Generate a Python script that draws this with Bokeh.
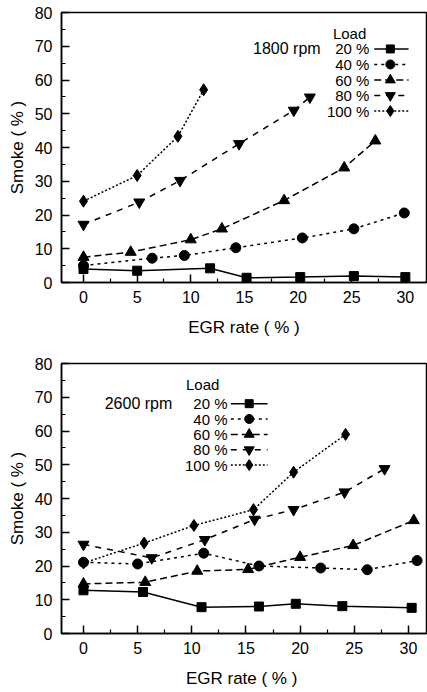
from bokeh.plotting import figure
from bokeh.models import Range1d, FixedTicker
from bokeh.layouts import column
from bokeh.core.properties import value
from bokeh.embed import file_html
from bokeh.resources import INLINE

FONT = "Liberation Sans"

# ---------------- data ----------------
loads = ["20 %", "40 %", "60 %", "80 %", "100 %"]
markers = ["square", "circle", "triangle", "inverted_triangle", "diamond"]

# 1800 rpm
x20_1800 = [0, 5, 11.8, 15.2, 20.2, 25.2, 30]
y20_1800 = [4, 3.5, 4.2, 1.4, 1.6, 1.9, 1.6]
x40_1800 = [0, 6.4, 9.4, 14.2, 20.4, 25.2, 29.9]
y40_1800 = [5, 7.2, 8.0, 10.3, 13.2, 15.9, 20.6]
x60_1800 = [0, 4.4, 10.0, 12.9, 18.7, 24.3, 27.2]
y60_1800 = [7.5, 9.0, 12.7, 15.9, 24.3, 34.0, 42.0]
x80_1800 = [0, 5.2, 9.0, 14.5, 19.6, 21.1]
y80_1800 = [17.2, 23.8, 30.2, 41.1, 51.0, 54.9]
x100_1800 = [0, 5.0, 8.8, 11.2]
y100_1800 = [24.1, 31.7, 43.3, 57.1]

# 2600 rpm
x20_2600 = [0, 5.5, 10.9, 16.2, 19.6, 23.9, 30.3]
y20_2600 = [12.8, 12.3, 7.8, 8.0, 8.8, 8.1, 7.6]
x40_2600 = [0, 5.0, 11.1, 16.2, 21.9, 26.2, 30.8]
y40_2600 = [21.1, 20.6, 23.8, 20.0, 19.4, 18.9, 21.6]
x60_2600 = [0, 5.7, 10.5, 15.2, 20.0, 24.9, 30.5]
y60_2600 = [14.7, 15.2, 18.5, 19.0, 22.6, 26.1, 33.5]
x80_2600 = [0, 6.3, 11.2, 15.8, 19.4, 24.1, 27.8]
y80_2600 = [26.4, 22.4, 27.8, 33.8, 36.7, 41.9, 48.8]
x100_2600 = [0, 5.6, 10.2, 15.7, 19.4, 24.2]
y100_2600 = [20.9, 26.8, 32.0, 36.7, 47.8, 59.0]

x_ticks = [0, 5, 10, 15, 20, 25, 30]
x_minor = [2.5, 7.5, 12.5, 17.5, 22.5, 27.5]
y_ticks = [0, 10, 20, 30, 40, 50, 60, 70, 80]
y_minor = [5, 15, 25, 35, 45, 55, 65, 75]

# ---------------- style ----------------
sizes = [9, 10, 11, 11, 12]
dashes = ["solid", "3 4", "7 4", "6 6", "2 2"]


def panel(series, rpm_text, xr, height, btop, bbot, xlabel, leg):
    p = figure(width=427, height=height, x_range=Range1d(*xr), y_range=Range1d(0, 80),
               output_backend="svg", toolbar_location=None,
               min_border_left=61, min_border_right=1,
               min_border_top=btop, min_border_bottom=bbot)
    p.xgrid.visible = False
    p.ygrid.visible = False
    p.outline_line_color = "black"
    p.outline_line_width = 1.5
    p.background_fill_color = "white"
    p.border_fill_color = "white"
    p.xaxis.ticker = FixedTicker(ticks=x_ticks, minor_ticks=x_minor)
    p.yaxis.ticker = FixedTicker(ticks=y_ticks, minor_ticks=y_minor)
    p.xaxis.axis_label = xlabel
    p.yaxis.axis_label = "Smoke ( % )"
    for ax in (p.xaxis[0], p.yaxis[0]):
        ax.major_tick_in = 8
        ax.major_tick_out = 0
        ax.minor_tick_in = 4
        ax.minor_tick_out = 0
        ax.axis_line_width = 1.5
        ax.major_tick_line_width = 1.5
        ax.minor_tick_line_width = 1.2
        ax.axis_line_color = "black"
        ax.major_tick_line_color = "black"
        ax.minor_tick_line_color = "black"
        ax.major_label_text_font = FONT
        ax.major_label_text_font_size = "16px"
        ax.major_label_text_color = "black"
        ax.axis_label_text_font = FONT
        ax.axis_label_text_font_size = "17px"
        ax.axis_label_text_font_style = "normal"
        ax.axis_label_text_color = "black"
    p.xaxis.major_label_standoff = 8
    p.xaxis.axis_label_standoff = 12
    p.yaxis.major_label_standoff = 9
    p.yaxis.axis_label_standoff = 5

    for i, (xs, ys) in enumerate(series):
        p.line(xs, ys, line_color="black", line_width=1.5, line_dash=dashes[i])
        p.scatter(xs, ys, marker=markers[i], size=sizes[i],
                  fill_color="black", line_color="black")

    # legend (hand-made to mimic original layout)
    lx = leg["label_x"]
    y0 = leg["y0"]
    step = leg["step"]
    ys_leg = [y0 - k * step for k in range(len(loads))]
    p.text(x=[leg["load_x"]], y=[leg["load_y"]], text=["Load"], text_align="center",
           text_baseline="middle", text_font=value(FONT), text_font_size="15px",
           text_color="black")
    p.text(x=[leg["rpm_x"]], y=[y0], text=[rpm_text], text_align="right",
           text_baseline="middle", text_font=value(FONT), text_font_size="16px",
           text_color="black")
    p.text(x=[lx] * len(loads), y=ys_leg, text=loads, text_align="right",
           text_baseline="middle", text_font=value(FONT), text_font_size="15px",
           text_color="black")
    for i, yy in enumerate(ys_leg):
        p.line([leg["l0"], leg["l1"]], [yy, yy], line_color="black", line_width=1.5,
               line_dash=dashes[i])
        p.scatter([leg["m"]], [yy], marker=markers[i], size=sizes[i] - 1,
                  fill_color="black", line_color="black")
    return p


s1800 = [(x20_1800, y20_1800), (x40_1800, y40_1800), (x60_1800, y60_1800),
         (x80_1800, y80_1800), (x100_1800, y100_1800)]
s2600 = [(x20_2600, y20_2600), (x40_2600, y40_2600), (x60_2600, y60_2600),
         (x80_2600, y80_2600), (x100_2600, y100_2600)]

leg1 = dict(label_x=26.65, y0=69.2, step=4.6, l0=27.1, l1=30.3, m=28.6,
            load_x=24.8, load_y=73.9, rpm_x=22.1)
leg2 = dict(label_x=13.3, y0=68.1, step=4.55, l0=13.6, l1=17.0, m=15.3,
            load_x=11.0, load_y=73.8, rpm_x=8.2)

p1 = panel(s1800, "1800 rpm", (-2.05, 31.97), 348, 12, 66, "EGR rate ( % )", leg1)
p2 = panel(s2600, "2600 rpm", (-2.03, 31.67), 344, 15, 59, "EGR  rate ( % )", leg2)

layout = column(p1, p2, spacing=0)
open("out.html", "w").write(file_html(layout, INLINE))
